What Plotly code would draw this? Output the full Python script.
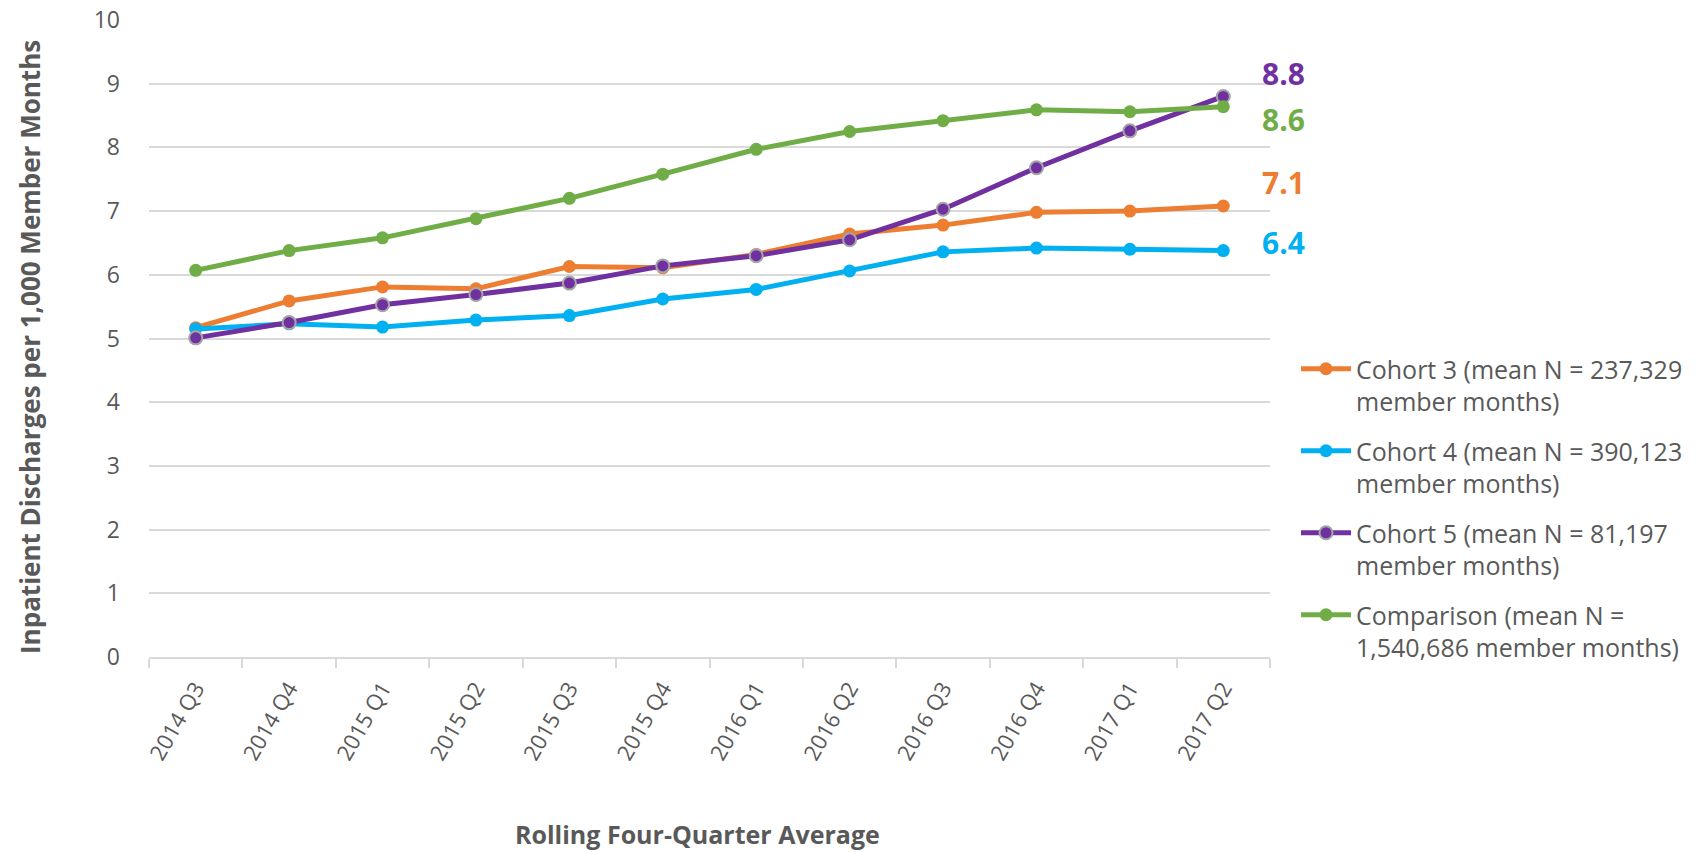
import plotly.graph_objects as go

quarters = ["2014 Q3", "2014 Q4", "2015 Q1", "2015 Q2", "2015 Q3", "2015 Q4",
            "2016 Q1", "2016 Q2", "2016 Q3", "2016 Q4", "2017 Q1", "2017 Q2"]

cohort3 = [5.17, 5.59, 5.81, 5.78, 6.13, 6.11, 6.32, 6.64, 6.78, 6.98, 7.00, 7.08]
cohort4 = [5.15, 5.23, 5.18, 5.29, 5.36, 5.62, 5.77, 6.06, 6.36, 6.42, 6.40, 6.38]
cohort5 = [5.01, 5.25, 5.53, 5.69, 5.87, 6.14, 6.30, 6.55, 7.03, 7.68, 8.26, 8.80]
comparison = [6.07, 6.38, 6.58, 6.88, 7.20, 7.58, 7.97, 8.25, 8.42, 8.59, 8.56, 8.64]

series_names = [
    "Cohort 3 (mean N = 237,329<br>member months)",
    "Cohort 4 (mean N = 390,123<br>member months)",
    "Cohort 5 (mean N = 81,197<br>member months)",
    "Comparison (mean N =<br>1,540,686 member months)",
]
series_values = [cohort3, cohort4, cohort5, comparison]
colors = ["#ED7D31", "#00B0F0", "#7030A0", "#70AD47"]
marker_lines = ["#ED7D31", "#00B0F0", "#A5A5A5", "#70AD47"]
label_yshift = [24, 8, 23, -13]

TXT = "#595959"
FONT = "Open Sans"

fig = go.Figure()
for i, (name, vals) in enumerate(zip(series_names, series_values)):
    fig.add_trace(go.Scatter(
        x=quarters, y=vals, name=name, mode="lines+markers",
        legendgroup=f"g{i}",
        line=dict(color=colors[i], width=5),
        marker=dict(size=13, color=colors[i],
                    line=dict(color=marker_lines[i], width=2 if i == 2 else 0)),
    ))

for i, vals in enumerate(series_values):
    fig.add_annotation(
        x=quarters[-1], y=vals[-1], text=f"{vals[-1]:.1f}",
        xref="x", yref="y", xanchor="left", yanchor="middle",
        xshift=37, yshift=label_yshift[i], showarrow=False,
        font=dict(family=FONT, size=30, color=colors[i], weight="bold"),
    )

fig.add_annotation(
    text="Inpatient Discharges per 1,000 Member Months",
    xref="paper", yref="paper", x=(30 - 149) / 1121, y=(657 - 347) / 637,
    xanchor="center", yanchor="middle", textangle=-90, showarrow=False,
    font=dict(family=FONT, size=26, color=TXT, weight="bold"),
)
fig.add_annotation(
    text="Rolling Four-Quarter Average",
    xref="paper", yref="paper", x=(697 - 149) / 1121, y=(657 - 834) / 637,
    xanchor="center", yanchor="middle", showarrow=False,
    font=dict(family=FONT, size=25, color=TXT, weight="bold"),
)

fig.update_layout(
    width=1708, height=852,
    margin=dict(l=149, r=438, t=20, b=195, autoexpand=False),
    paper_bgcolor="white", plot_bgcolor="white",
    font=dict(family=FONT, color=TXT),
    showlegend=True,
    legend=dict(
        x=(1296 - 149) / 1121, y=(657 - 346) / 637, xanchor="left", yanchor="top",
        font=dict(family=FONT, size=25, color=TXT),
        valign="top", tracegroupgap=14, itemwidth=50,
        bgcolor="rgba(0,0,0,0)",
    ),
    xaxis=dict(
        type="category", range=[-0.5, 11.5],
        showgrid=False, showline=True, linecolor="#D9D9D9", linewidth=2,
        ticks="outside", tickson="boundaries", ticklen=9, tickwidth=2,
        tickcolor="#D9D9D9", tickangle=-60,
        tickfont=dict(family=FONT, size=22, color=TXT),
        ticklabelstandoff=8, zeroline=False,
    ),
    yaxis=dict(
        range=[0, 10], dtick=1, tick0=0,
        showgrid=True, gridcolor="#D9D9D9", gridwidth=2,
        zeroline=False, showline=False, ticks="",
        tickfont=dict(family=FONT, size=23, color=TXT),
        ticklabelstandoff=28,
    ),
)

fig.write_html("out.html", config={"displayModeBar": False})
with open("out.html", "r", encoding="utf-8") as f:
    html = f.read()
html = html.replace("<head>", "<head><style>html,body{margin:0;padding:0;overflow:hidden}</style>", 1)
with open("out.html", "w", encoding="utf-8") as f:
    f.write(html)
